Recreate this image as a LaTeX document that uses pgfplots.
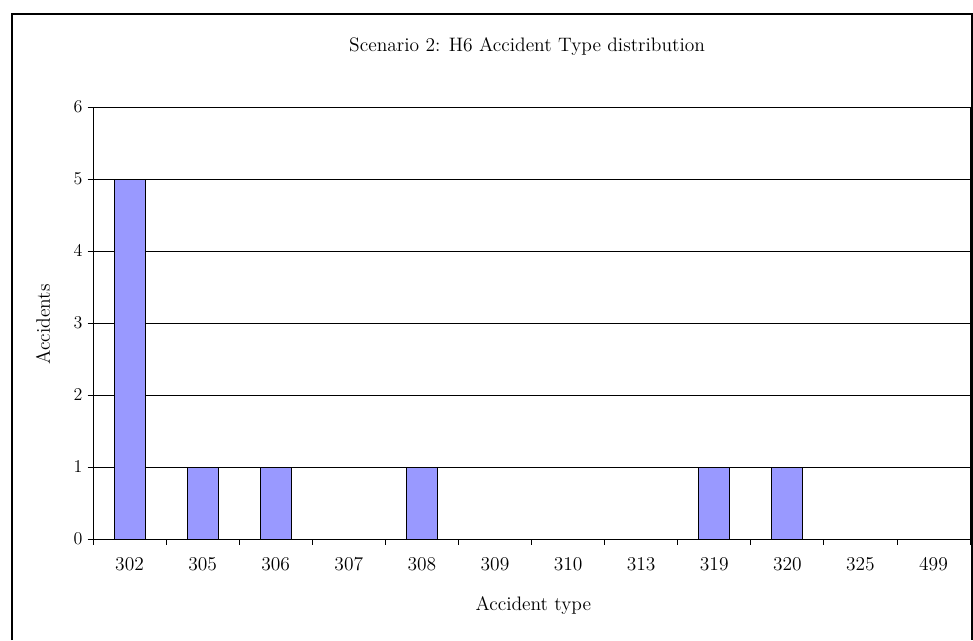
\documentclass[border=0pt]{standalone}
\usepackage{pgfplots}
\pgfplotsset{compat=1.18}
\definecolor{barblue}{HTML}{9999FF}
\definecolor{plotgrey}{HTML}{808080}
\begin{document}
\begin{tikzpicture}[x=0.667pt,y=0.667pt]
\useasboundingbox (0,0) rectangle (973,640);
\draw[line width=0.9pt] (12,0) -- (12,626) -- (972,626) -- (972,0);
\begin{axis}[
  at={(62.03pt,67.37pt)}, anchor=south west,
  scale only axis, width=585pt, height=288.1pt,
  font=\fontsize{13}{15}\selectfont,
  xmin=-0.5, xmax=11.5, ymin=0, ymax=6,
  ytick={0,...,6},
  xtick={0,...,11},
  xticklabels={302,305,306,307,308,309,310,313,319,320,325,499},
  minor xtick={-0.5,0.5,...,11.5},
  major x tick style={draw=none},
  minor tick length=4pt, major tick length=3.5pt,
  tick align=outside,
  xtick pos=bottom, ytick pos=left,
  ymajorgrids, grid style={black, line width=0.5pt},
  axis line style={black, line width=0.6pt},
  tick style={black, line width=0.6pt},
  xticklabel style={yshift=-5pt},
  ybar, bar width=20.7pt,
  title={Scenario 2: H6 Accident Type distribution},
  title style={at={(axis description cs:0.495,1.12)}, anchor=center},
  xlabel={Accident type},
  xlabel style={at={(axis description cs:0.502,-0.153)}, anchor=center},
  ylabel={Accidents},
  ylabel style={at={(axis description cs:-0.057,0.497)}, anchor=center, rotate=0},
]
\addplot[fill=barblue, draw=black, line width=0.6pt] coordinates {
  (0,5) (1,1) (2,1) (4,1) (8,1) (9,1)
};
\end{axis}
\end{tikzpicture}
\end{document}
